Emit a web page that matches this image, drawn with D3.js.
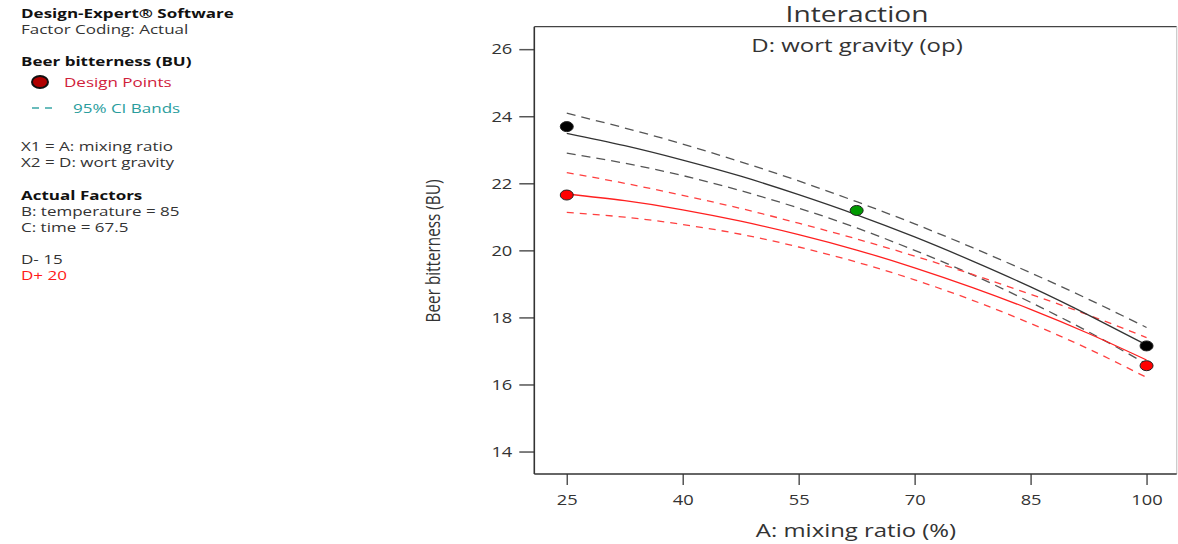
<!DOCTYPE html>
<html>
<head>
<meta charset="utf-8">
<script src="https://cdn.jsdelivr.net/npm/d3@7"></script>
<style>
  html, body { margin: 0; padding: 0; background: #fff; }
  svg { display: block; }
  text { font-family: "Open Sans", "Noto Sans", sans-serif; }
</style>
</head>
<body>
<svg id="chart" width="1178" height="544"></svg>
<script>
// Mixing ratio A (%) sampled along the fitted curves
const mixingRatio = [25, 32.5, 40, 47.5, 55, 62.5, 70, 77.5, 85, 92.5, 100];

// D- 15 (black): prediction and 95% CI bands
const lowPred  = [23.49, 23.12, 22.69, 22.21, 21.66, 21.06, 20.40, 19.68, 18.91, 18.07, 17.18];
const lowUpper = [24.09, 23.65, 23.17, 22.64, 22.07, 21.45, 20.79, 20.08, 19.33, 18.54, 17.70];
const lowLower = [22.90, 22.60, 22.23, 21.78, 21.26, 20.67, 20.00, 19.27, 18.45, 17.57, 16.61];

// D+ 20 (red): prediction and 95% CI bands
const highPred  = [21.68, 21.48, 21.21, 20.87, 20.47, 20.01, 19.48, 18.89, 18.24, 17.52, 16.73];
const highUpper = [22.32, 22.00, 21.64, 21.25, 20.81, 20.34, 19.83, 19.28, 18.69, 18.07, 17.40];
const highLower = [21.13, 20.99, 20.77, 20.48, 20.10, 19.65, 19.12, 18.51, 17.82, 17.06, 16.21];

// Design points
const pointA     = [25, 25, 62.5, 100, 100];
const pointBU    = [23.69, 21.65, 21.19, 17.15, 16.56];
const pointGroup = ["low", "high", "center", "low", "high"];

// Axis ticks
const xTicks = [25, 40, 55, 70, 85, 100];
const yTicks = [14, 16, 18, 20, 22, 24, 26];

// Side panel text lines
const sideLines = [
  { t: "Design-Expert® Software", y: 13, bold: true },
  { t: "Factor Coding: Actual", y: 29 },
  { t: "Beer bitterness (BU)", y: 61, bold: true },
  { t: "X1 = A: mixing ratio", y: 146 },
  { t: "X2 = D: wort gravity", y: 162 },
  { t: "Actual Factors", y: 195, bold: true },
  { t: "B: temperature = 85", y: 211 },
  { t: "C: time = 67.5", y: 227 },
  { t: "D- 15", y: 259 },
  { t: "D+ 20", y: 275, color: "#ff1a1a" }
];

const SX = 1.31; // horizontal stretch of the lettering
const svg = d3.select("#chart");

const plot = { left: 534.3, right: 1176.7, top: 26.7, bottom: 474 };
const x = d3.scaleLinear().domain([20.8, 103.9]).range([plot.left, plot.right]);
const y = d3.scaleLinear().domain([13.33, 26.67]).range([plot.bottom, plot.top]);

function hText(g, str, px, py, opts = {}) {
  return g.append("text")
    .attr("transform", `translate(${px},${py}) scale(${opts.sx || SX},1)`)
    .attr("text-anchor", opts.anchor || "start")
    .attr("dominant-baseline", "central")
    .attr("font-size", opts.size || 13)
    .attr("font-weight", opts.bold ? 700 : 400)
    .attr("fill", opts.color || "#333")
    .text(str);
}

// Side panel
const side = svg.append("g");
sideLines.forEach(d => hText(side, d.t, 21, d.y, { bold: d.bold, color: d.color || (d.bold ? "#111" : "#333"), size: 13 }));
side.append("ellipse").attr("cx", 40).attr("cy", 82).attr("rx", 8).attr("ry", 6)
  .attr("fill", "#b00000").attr("stroke", "#111").attr("stroke-width", 2);
hText(side, "Design Points", 64, 82, { color: "#d0203a", size: 13 });
side.append("line").attr("x1", 32).attr("x2", 56).attr("y1", 108).attr("y2", 108)
  .attr("stroke", "#3aa6a6").attr("stroke-width", 1.3).attr("stroke-dasharray", "7,6");
hText(side, "95% CI Bands", 73, 108, { color: "#2a9d9d", size: 13 });

// Title
hText(svg, "Interaction", 857, 14, { anchor: "middle", size: 21, sx: 1.34 });
hText(svg, "D: wort gravity (op)", 857, 45, { anchor: "middle", size: 17.5, sx: 1.37 });

// Axes
const yAxis = svg.append("g").attr("transform", `translate(${plot.left},0)`)
  .call(d3.axisLeft(y).tickValues(yTicks).tickSize(15).tickPadding(7).tickFormat(d3.format("d")));
const xAxis = svg.append("g").attr("transform", `translate(0,${plot.bottom})`)
  .call(d3.axisBottom(x).tickValues(xTicks).tickSize(11).tickPadding(9).tickFormat(d3.format("d")));
const TSX = 1.22;
[yAxis, xAxis].forEach(a => {
  a.select(".domain").remove();
  a.selectAll(".tick line").attr("stroke", "#555").attr("stroke-width", 1.5);
  a.selectAll(".tick text").attr("fill", "#333").attr("font-size", 15)
    .attr("font-family", '"Open Sans", sans-serif')
    .attr("transform", `scale(${TSX},1)`);
});
yAxis.selectAll(".tick text").attr("x", -22 / TSX);

// Frame
svg.append("line").attr("x1", plot.left).attr("x2", plot.right).attr("y1", plot.top).attr("y2", plot.top)
  .attr("stroke", "#444").attr("stroke-width", 1.3);
svg.append("line").attr("x1", plot.right).attr("x2", plot.right).attr("y1", plot.top).attr("y2", plot.bottom)
  .attr("stroke", "#c8c8c8").attr("stroke-width", 1.2);
svg.append("line").attr("x1", plot.left).attr("x2", plot.left).attr("y1", plot.top).attr("y2", plot.bottom)
  .attr("stroke", "#333").attr("stroke-width", 1.6);
svg.append("line").attr("x1", plot.left).attr("x2", plot.right).attr("y1", plot.bottom).attr("y2", plot.bottom)
  .attr("stroke", "#333").attr("stroke-width", 1.6);

// Axis titles
hText(svg, "A: mixing ratio (%)", 856, 530, { anchor: "middle", size: 18, sx: 1.33 });
svg.append("text")
  .attr("transform", "translate(432,251) rotate(-90) scale(1,1.3)")
  .attr("text-anchor", "middle").attr("dominant-baseline", "central")
  .attr("font-size", 15.3).attr("fill", "#333")
  .text("Beer bitterness (BU)");

// Curves
const line = vals => d3.line().x((d, i) => x(mixingRatio[i])).y(d => y(d)).curve(d3.curveNatural)(vals);
const curves = [
  { v: lowUpper,  c: "#555", w: 1.3, dash: "9,6" },
  { v: lowLower,  c: "#555", w: 1.3, dash: "9,6" },
  { v: highUpper, c: "#ff4040", w: 1.3, dash: "7,6" },
  { v: highLower, c: "#ff4040", w: 1.3, dash: "7,6" },
  { v: highPred,  c: "#ff2020", w: 1.3, dash: null },
  { v: lowPred,   c: "#333", w: 1.3, dash: null }
];
curves.forEach(k => {
  svg.append("path").attr("d", line(k.v)).attr("fill", "none")
    .attr("stroke", k.c).attr("stroke-width", k.w)
    .attr("stroke-dasharray", k.dash);
});

// Design points
const fills = { low: "#000", high: "#ff0000", center: "#009900" };
svg.selectAll(".pt").data(pointA).enter().append("ellipse")
  .attr("cx", d => x(d)).attr("cy", (d, i) => y(pointBU[i]))
  .attr("rx", 6.5).attr("ry", 5)
  .attr("fill", (d, i) => fills[pointGroup[i]])
  .attr("stroke", "#222").attr("stroke-width", 1);
</script>
</body>
</html>
